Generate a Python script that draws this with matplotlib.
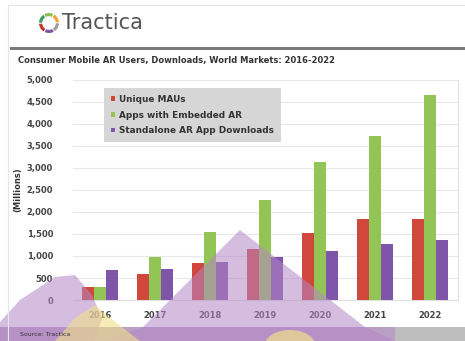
import numpy as np
import matplotlib.pyplot as plt
from matplotlib.patches import Rectangle, Polygon, Wedge, Ellipse
from matplotlib.transforms import IdentityTransform

# ------------------------------------------------------------
# data
# ------------------------------------------------------------
YEARS = ["2016", "2017", "2018", "2019", "2020", "2021", "2022"]
UNIQUE_MAUS = [300, 600, 850, 1150, 1520, 1840, 1840]
APPS_EMBEDDED_AR = [300, 980, 1550, 2270, 3130, 3730, 4660]
STANDALONE_DOWNLOADS = [680, 700, 860, 980, 1110, 1270, 1360]
SERIES_NAMES = ["Unique MAUs", "Apps with Embedded AR", "Standalone AR App Downloads"]
COLORS = ["#d0473c", "#93c456", "#7e55a8"]

W, H = 465, 341


def fx(px):
    return px / W


def fy(py):
    return 1 - py / H


fig = plt.figure(figsize=(4.65, 3.41), dpi=100)
fig.patch.set_facecolor("white")

# frame lines + header bar
fig.add_artist(plt.Line2D([fx(8), fx(465)], [fy(5), fy(5)], color="#e6e6e6", lw=0.8))
fig.add_artist(plt.Line2D([fx(8), fx(8)], [fy(5), fy(341)], color="#e6e6e6", lw=0.8))
fig.add_artist(Rectangle((fx(10), fy(50)), fx(455), 3 / H, transform=fig.transFigure,
                         color="#7a7a7a", lw=0))

# logo ring (pixel coordinates)
logo_cols = ["#f2a23a", "#8cc152", "#3d9b5e", "#c0392b", "#7e55a8", "#9e9e9e"]
for i, c in enumerate(logo_cols):
    fig.add_artist(Wedge((49, H - 23), 10, 60 * i + 5, 60 * i + 58, width=3.2,
                         transform=IdentityTransform(), color=c, lw=0))
fig.text(fx(62), fy(23), "Tractica", fontsize=15, color="#555555", va="center", ha="left")
fig.text(fx(18), fy(60), "Consumer Mobile AR Users, Downloads, World Markets: 2016-2022",
         fontsize=6, fontweight="bold", color="#333333", va="center", ha="left")

# ------------------------------------------------------------
# chart
# ------------------------------------------------------------
ax = fig.add_axes([fx(72.5), fy(300), fx(385), 220 / H])
x = np.arange(len(YEARS))
bw = 0.22
for k, (vals, col) in enumerate(zip([UNIQUE_MAUS, APPS_EMBEDDED_AR, STANDALONE_DOWNLOADS], COLORS)):
    ax.bar(x + (k - 1) * bw, vals, bw, color=col, label=SERIES_NAMES[k], zorder=3)

ax.set_xlim(-0.5, len(YEARS) - 0.5)
ax.set_ylim(0, 5000)
ax.set_yticks(np.arange(0, 5001, 500))
ax.set_yticklabels([f"{v:,}" for v in range(0, 5001, 500)])
ax.set_xticks(x)
ax.set_xticklabels(YEARS)
ax.grid(axis="y", color="#e8e8e8", lw=0.8, zorder=0)
for s in ["left", "top"]:
    ax.spines[s].set_visible(False)
ax.spines["right"].set_color("#e0e0e0")
ax.spines["bottom"].set_color("#e0e0e0")
ax.tick_params(axis="y", length=0, labelsize=6, colors="#444444", pad=14)
ax.tick_params(axis="x", length=0, labelsize=6, colors="#444444", pad=8)
for t in ax.get_xticklabels() + ax.get_yticklabels():
    t.set_fontweight("bold")
ax.set_ylabel("(Millions)", fontsize=6, fontweight="bold", color="#333333", labelpad=3)

leg = ax.legend(loc="upper left", bbox_to_anchor=(0.07, 0.985), fontsize=6.4,
                frameon=True, fancybox=False, handlelength=0.45, handleheight=0.45,
                handletextpad=0.5, labelspacing=0.75, borderpad=0.8)
leg.get_frame().set_facecolor("#d6d6d6")
leg.get_frame().set_edgecolor("none")
leg.get_frame().set_alpha(1)
for t in leg.get_texts():
    t.set_fontweight("bold")
    t.set_color("#333333")

# ------------------------------------------------------------
# source bar and overlay decoration
# ------------------------------------------------------------
fig.add_artist(Rectangle((0, 0), 1, 14 / H, transform=fig.transFigure, color="#bdbdbd", lw=0))
fig.text(fx(20), fy(334), "Source: Tractica", fontsize=4.5, color="#333333", va="center")

ov = "#b487c8"
shapes = [
    [(0, 322), (20, 300), (55, 277), (75, 275), (92, 295), (102, 318), (95, 341), (0, 341)],
    [(105, 341), (143, 327), (240, 230), (365, 327), (395, 341)],
    [(0, 327), (395, 327), (395, 341), (0, 341)],
]
for pts in shapes:
    fig.add_artist(Polygon([(fx(a), fy(b)) for a, b in pts], closed=True, transform=fig.transFigure,
                           color=ov, alpha=0.55, lw=0))
fig.add_artist(Polygon([(fx(a), fy(b)) for a, b in [(55, 341), (75, 318), (95, 305), (110, 318), (140, 341)]],
                       closed=True, transform=fig.transFigure, color="#f0e08a", alpha=0.6, lw=0))
fig.add_artist(Ellipse((fx(290), fy(345)), 50 / W, 30 / H, transform=fig.transFigure,
                       color="#f0e08a", alpha=0.7, lw=0))

fig.savefig("out.png", dpi=100)
